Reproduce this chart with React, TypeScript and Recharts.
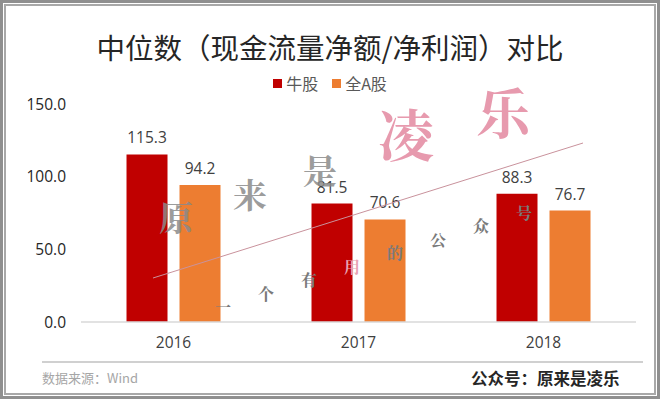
import { BarChart, Bar, XAxis, YAxis, LabelList } from "recharts";

const years = ["2016", "2017", "2018"];
const bullStocks = [115.3, 81.5, 88.3];
const allAStocks = [94.2, 70.6, 76.7];
const yTicks = [0, 50, 100, 150];

const data = years.map((year, i) => ({
  year,
  bull: bullStocks[i],
  allA: allAStocks[i],
}));

const seriesInfo = [
  { key: "bull", name: "牛股", color: "#C00000" },
  { key: "allA", name: "全A股", color: "#ED7D31" },
];

const font = '"Noto Sans CJK SC", "Noto Sans", sans-serif';
const numFont = '"Open Sans", "Noto Sans", sans-serif';

// faint watermark chars on top of the picture
const markSmall = ["一", "个", "有", "用", "的", "公", "众", "号"];

export default function App() {
  return (
    <div
      style={{
        position: "absolute",
        left: 0,
        top: 0,
        width: 660,
        height: 399,
        background: "#fff",
        fontFamily: font,
        boxSizing: "border-box",
        border: "3px solid #8f8f8f",
      }}
    >
      <div
        style={{
          position: "absolute",
          left: 1,
          top: 1,
          right: 1,
          bottom: 1,
          border: "2px solid #a8a8a8",
        }}
      />
      <div
        style={{
          position: "absolute",
          left: -3,
          top: 25,
          width: 660,
          textAlign: "center",
          fontSize: 28.5,
          color: "#262626",
          lineHeight: "38px",
        }}
      >
        中位数（现金流量净额/净利润）对比
      </div>
      <div
        style={{
          position: "absolute",
          left: -3,
          top: 69,
          width: 660,
          display: "flex",
          justifyContent: "center",
          fontSize: 16,
          lineHeight: "22px",
          color: "#595959",
        }}
      >
        {seriesInfo.map((s) => (
          <span
            key={s.key}
            style={{ display: "flex", alignItems: "center", margin: "0 7px" }}
          >
            <span
              style={{
                width: 9,
                height: 9,
                background: s.color,
                marginRight: 4,
                display: "inline-block",
              }}
            />
            {s.name}
          </span>
        ))}
      </div>
      <div style={{ position: "absolute", left: -3, top: -3, fontFamily: numFont }}>
        <BarChart
          width={660}
          height={399}
          data={data}
          margin={{ top: 104, right: 24, bottom: 47, left: 0 }}
          barGap={12}
          barCategoryGap="24.6%"
        >
          <XAxis
            dataKey="year"
            height={30}
            tickLine={false}
            axisLine={{ stroke: "#d9d9d9", strokeWidth: 1.5 }}
            tick={{ fill: "#404040", fontSize: 15.5, style: { fontFamily: numFont } }}
            tickSize={0}
            tickMargin={15}
          />
          <YAxis
            domain={[0, 150]}
            ticks={yTicks}
            width={81}
            axisLine={false}
            tickLine={false}
            tickSize={0}
            tickMargin={15}
            tickFormatter={(v: number) => v.toFixed(1)}
            tick={{ fill: "#262626", fontSize: 15.5, style: { fontFamily: numFont } }}
          />
          <Bar dataKey="bull" name="牛股" fill="#C00000" isAnimationActive={false}>
            <LabelList
              dataKey="bull"
              position="top"
              offset={11}
              formatter={(v: number) => v.toFixed(1)}
              style={{ fill: "#404040", fontSize: 15.5, fontFamily: numFont }}
            />
          </Bar>
          <Bar dataKey="allA" name="全A股" fill="#ED7D31" isAnimationActive={false}>
            <LabelList
              dataKey="allA"
              position="top"
              offset={11}
              formatter={(v: number) => v.toFixed(1)}
              style={{ fill: "#404040", fontSize: 15.5, fontFamily: numFont }}
            />
          </Bar>
        </BarChart>
      </div>
      <svg
        width={660}
        height={399}
        style={{ position: "absolute", left: -3, top: -3, pointerEvents: "none" }}
      >
        <line x1={153} y1={278} x2={583} y2={143} stroke="#c9929c" strokeWidth={1} />
        <g fontFamily='"Noto Serif CJK SC", "Noto Sans CJK SC", serif' fontWeight="bold">
          <text x={406} y={156} fontSize={56} fill="#e79aae" textAnchor="middle">凌</text>
          <text x={503} y={134} fontSize={54} fill="#e79aae" textAnchor="middle">乐</text>
          <text x={176} y={231} fontSize={34} fill="#8a8a8a" fillOpacity={0.85} textAnchor="middle">原</text>
          <text x={250} y={208} fontSize={34} fill="#8a8a8a" fillOpacity={0.85} textAnchor="middle">来</text>
          <text x={320} y={184} fontSize={34} fill="#8a8a8a" fillOpacity={0.85} textAnchor="middle">是</text>
          {markSmall.map((c, i) => (
            <text
              key={c + i}
              x={223 + i * 43}
              y={313 - i * 13.5}
              fontSize={16}
              fill={c === "用" ? "#e8a3b3" : "#7a7a7a"}
              textAnchor="middle"
            >
              {c}
            </text>
          ))}
        </g>
      </svg>
      <div
        style={{
          position: "absolute",
          left: 39,
          right: 14,
          top: 358,
          borderTop: "2px solid #d0d0d0",
        }}
      />
      <div
        style={{
          position: "absolute",
          left: 39,
          top: 366,
          fontSize: 13,
          color: "#a6a6a6",
          lineHeight: "18px",
        }}
      >
        数据来源：Wind
      </div>
      <div
        style={{
          position: "absolute",
          left: 468,
          top: 365,
          fontSize: 16.5,
          fontWeight: "bold",
          color: "#262626",
          lineHeight: "20px",
        }}
      >
        公众号：原来是凌乐
      </div>
    </div>
  );
}
